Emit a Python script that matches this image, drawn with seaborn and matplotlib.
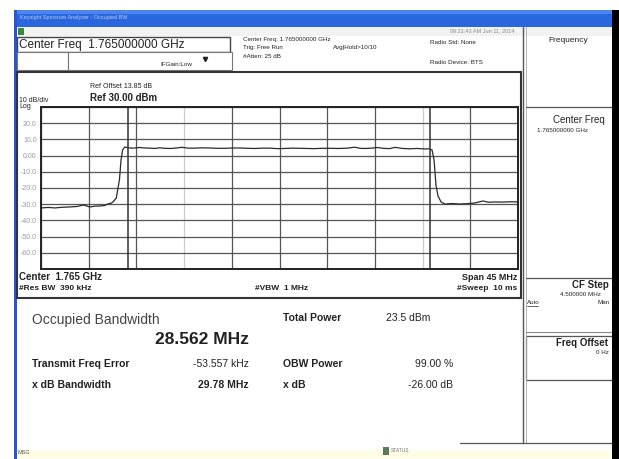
# plot.py
# Tela do analisador de espectro - medida de Occupied Bandwidth
import numpy as np
import pandas as pd
import matplotlib
matplotlib.use("Agg")
import matplotlib.pyplot as plt
from matplotlib.patches import Rectangle
import seaborn as sns

# ------------------------------
# Dados lidos da tela
# ------------------------------
centro_mhz = 1765.0
span_mhz = 45.0
ref_dbm = 30.0
db_div = 10.0

# traço (MHz, dBm)
freq_mhz = [1742.5, 1743.2, 1743.8, 1744.5, 1745.2, 1745.9, 1746.5, 1747.1, 1747.6,
            1748.1, 1748.5, 1748.8, 1749.1, 1749.3, 1749.6, 1749.9, 1750.05, 1750.2,
            1750.4, 1750.7, 1751.2, 1751.8, 1752.3, 1752.8, 1753.2, 1753.7, 1754.2,
            1754.7, 1755.3, 1755.8, 1756.4, 1757.0, 1757.7, 1758.4, 1759.1, 1759.9,
            1760.6, 1761.3, 1762.0, 1762.7, 1763.4, 1764.1, 1764.8, 1765.5, 1766.2,
            1766.9, 1767.6, 1768.3, 1769.0, 1769.8, 1770.6, 1771.4, 1772.1, 1772.6,
            1773.1, 1773.7, 1774.2, 1774.8, 1775.4, 1775.9, 1776.6, 1777.3, 1778.0,
            1778.7, 1779.1, 1779.39, 1779.58, 1779.76, 1779.95, 1780.24, 1780.6,
            1781.3, 1782.0, 1782.7, 1783.4, 1784.2, 1784.7, 1785.3, 1786.0, 1786.8,
            1787.5]
nivel_dbm = [-32.3, -32.0, -32.3, -31.9, -31.7, -31.4, -30.5, -31.7, -31.2,
             -31.1, -30.8, -29.9, -29.4, -28.6, -26.2, -15.0, -2.7, 3.5,
             5.3, 4.8, 4.6, 5.0, 4.7, 4.6, 4.4, 4.8, 4.5,
             4.4, 4.7, 5.1, 4.6, 4.6, 4.8, 4.7, 4.5, 4.5,
             4.7, 4.7, 4.5, 4.4, 4.6, 4.6, 4.3, 4.4, 4.6,
             4.5, 4.4, 4.3, 4.5, 4.5, 4.4, 4.6, 5.2, 4.5,
             4.4, 4.6, 5.0, 4.5, 4.3, 5.1, 4.4, 4.2, 4.4,
             4.1, 4.2, 3.5, -2.7, -18.1, -24.9, -28.6, -29.9,
             -29.6, -29.9, -29.7, -29.3, -28.0, -28.8, -28.6, -28.7, -28.5,
             -28.6]

# resultados
obw_mhz = 28.562
erro_khz = -53.557
xdb_bw_mhz = 29.78
potencia_total = 23.5
obw_pct = 99.00
xdb = -26.00

rotulos_y = ["", "-60.0", "-50.0", "-40.0", "-30.0", "-20.0", "-10.0", "0.00", "10.0", "20.0", ""]

df = pd.DataFrame({"freq": freq_mhz, "nivel": nivel_dbm})

# ------------------------------
# Figura
# ------------------------------
sns.set_theme(style="white")
plt.rcParams["font.family"] = ["Liberation Sans", "DejaVu Sans"]

W, H = 619, 459
fig = plt.figure(figsize=(W / 100, H / 100), dpi=100)
fig.patch.set_facecolor("white")

# camada de fundo em pixels
bg = fig.add_axes([0, 0, 1, 1], zorder=0)
bg.set_xlim(0, W)
bg.set_ylim(H, 0)
bg.axis("off")

def caixa(x0, y0, x1, y1, **kw):
    bg.add_patch(Rectangle((x0, y0), x1 - x0, y1 - y0, **kw))

def linha(xs, ys, **kw):
    bg.plot(xs, ys, **kw)

def texto(x, y, s, **kw):
    kw.setdefault("va", "center")
    kw.setdefault("color", "#222222")
    bg.text(x, y, s, **kw)

# janela
caixa(14, 10, 612, 27, facecolor="#2a66dd", edgecolor="none")
caixa(14, 10, 612, 14, facecolor="#4a86f2", edgecolor="none")
texto(20, 18, "Keysight Spectrum Analyzer - Occupied BW", size=4, color="#b8ccf5")
caixa(14, 10, 17, H, facecolor="#2a55d0", edgecolor="none")
caixa(17, 27, 612, 36, facecolor="#f2f2f0", edgecolor="none")
caixa(18, 28, 24, 35, facecolor="#3a8a3a", edgecolor="none")
caixa(17, 450, 612, H, facecolor="#fffde6", edgecolor="none")

# cabeçalho
caixa(17, 37, 230, 52, facecolor="white", edgecolor="#444444", lw=1)
texto(19, 45, "Center Freq  1.765000000 GHz", size=8.5)
caixa(17, 52, 68, 70, facecolor="white", edgecolor="#777777", lw=0.8)
caixa(68, 52, 232, 70, facecolor="white", edgecolor="#777777", lw=0.8)
texto(176, 64, "IFGain:Low", size=4.5, ha="center")
bg.plot([205], [59], marker="v", ms=3, color="#222222")
texto(243, 40, "Center Freq: 1.765000000 GHz", size=4.5)
texto(243, 48, "Trig: Free Run", size=4.5)
texto(243, 56, "#Atten: 25 dB", size=4.5)
texto(333, 48, "Avg|Hold>10/10", size=4.5)
texto(515, 31, "09:21:43 AM Jun 11, 2014", size=4, ha="right", color="#888888")
texto(430, 42, "Radio Std: None", size=4.5)
texto(430, 63, "Radio Device: BTS", size=4.5)

# painel direito
linha([523, 523], [27, 443], color="#555555", lw=1)
linha([526, 526], [27, 443], color="#aaaaaa", lw=0.6)
texto(568, 40, "Frequency", size=6, ha="center")
linha([526, 612], [107, 107], color="#555555", lw=0.9)
texto(553, 120, "Center Freq", size=7)
texto(537, 131, "1.765000000 GHz", size=4.5)
linha([526, 612], [278, 278], color="#555555", lw=0.9)
texto(572, 285, "CF Step", size=7, weight="bold")
texto(560, 294, "4.500000 MHz", size=4.5)
texto(527, 302, "Auto", size=4.5)
linha([527, 538], [306, 306], color="#222222", lw=0.5)
texto(597, 302, "Man", size=4.5)
linha([526, 612], [332, 332], color="#888888", lw=0.8)
caixa(526, 336, 613, 380, facecolor="white", edgecolor="#555555", lw=0.9)
texto(556, 343, "Freq Offset", size=7, weight="bold")
texto(596, 352, "0 Hz", size=4.5)
linha([460, 612], [443, 443], color="#555555", lw=0.9)

# moldura do gráfico
caixa(17, 72, 521, 298, facecolor="white", edgecolor="#333333", lw=1.5)
texto(90, 87, "Ref Offset 13.85 dB", size=5)
texto(90, 98, "Ref 30.00 dBm", size=7, weight="bold")
texto(19, 100, "10 dB/div", size=5)
texto(19, 107, "Log", size=5)
texto(19, 277, "Center  1.765 GHz", size=7, weight="bold")
texto(19, 289, "#Res BW  390 kHz", size=6, weight="bold")
texto(255, 289, "#VBW  1 MHz", size=6, weight="bold")
texto(517, 277, "Span 45 MHz", size=6.5, ha="right", weight="bold")
texto(517, 289, "#Sweep  10 ms", size=6, ha="right", weight="bold")

# resultados
texto(32, 320, "Occupied Bandwidth", size=10, color="#444444")
texto(249, 340, "28.562 MHz", size=12.5, ha="right", weight="bold")
texto(32, 364, "Transmit Freq Error", size=7.5, weight="bold")
texto(249, 364, f"{erro_khz:.3f} kHz", size=7.5, ha="right")
texto(32, 385, "x dB Bandwidth", size=7.5, weight="bold")
texto(249, 385, f"{xdb_bw_mhz:.2f} MHz", size=7.5, ha="right", weight="bold")
texto(283, 318, "Total Power", size=7.5, weight="bold")
texto(386, 318, f"{potencia_total:.1f} dBm", size=7.5)
texto(283, 364, "OBW Power", size=7.5, weight="bold")
texto(453, 364, f"{obw_pct:.2f} %", size=7.5, ha="right")
texto(283, 385, "x dB", size=7.5, weight="bold")
texto(453, 385, f"{xdb:.2f} dB", size=7.5, ha="right")

# barra de status
texto(18, 453, "MSG", size=4, color="#555555")
caixa(383, 447, 389, 455, facecolor="#5a7a5a", edgecolor="none")
texto(391, 451, "STATUS", size=3.5, color="#777777")

# faixa preta à direita (por cima de tudo)
caixa(612, 10, W, H, facecolor="black", edgecolor="none", zorder=10)

# ------------------------------
# Gráfico do espectro
# ------------------------------
f0 = centro_mhz - span_mhz / 2
f1 = centro_mhz + span_mhz / 2
ax = fig.add_axes([41 / W, (H - 269) / H, 477 / W, 162 / H], zorder=2)
ax.set_facecolor("white")

sns.lineplot(data=df, x="freq", y="nivel", ax=ax, color="#2a2a2a", linewidth=0.9)

ax.set_xlim(f0, f1)
ax.set_ylim(ref_dbm - 10 * db_div, ref_dbm)
ax.set_xticks(np.linspace(f0, f1, 11))
ax.set_yticks(np.arange(ref_dbm - 10 * db_div, ref_dbm + 1, db_div))
ax.set_xticklabels([])
ax.set_yticklabels(rotulos_y, fontsize=5, color="#999999")
ax.tick_params(axis="y", length=0, pad=3)
ax.tick_params(axis="x", length=0)
ax.set_xlabel("")
ax.set_ylabel("")
ax.grid(True, color="#555555", linewidth=0.9)
# linhas mais fracas no vídeo
for i, xv in enumerate(ax.get_xgridlines()):
    if i in (3, 8):
        xv.set_color("#cccccc")

# marcadores da OBW
centro_real = centro_mhz + erro_khz / 1000
for xm in (centro_real - obw_mhz / 2, centro_real + obw_mhz / 2):
    ax.axvline(xm, color="#333333", linewidth=1.1)

for s in ax.spines.values():
    s.set_color("#222222")
    s.set_linewidth(1.4)

fig.savefig("out.png", dpi=100)
